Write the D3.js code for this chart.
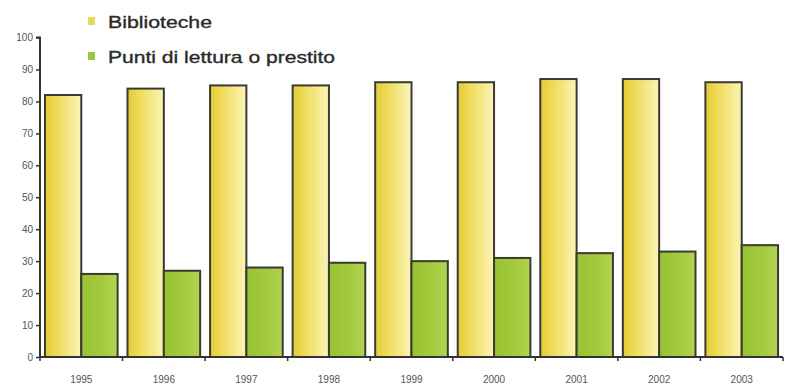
<!DOCTYPE html>
<html>
<head>
<meta charset="utf-8">
<script src="https://cdn.jsdelivr.net/npm/d3@7"></script>
<style>
html,body{margin:0;padding:0;background:#fff;}
svg{display:block;}
</style>
</head>
<body>
<svg id="chart" width="786" height="387"></svg>
<script>
const years = ["1995","1996","1997","1998","1999","2000","2001","2002","2003"];
const biblioteche = [82, 84, 85, 85, 86, 86, 87, 87, 86];
const puntiLettura = [26, 27, 28, 29.5, 30, 31, 32.5, 33, 35];
const seriesNames = ["Biblioteche", "Punti di lettura o prestito"];
const yTicks = [0, 10, 20, 30, 40, 50, 60, 70, 80, 90, 100];

const seriesValues = [biblioteche, puntiLettura];
const data = years.map((yr, i) => ({year: yr, values: seriesValues.map((s, k) => ({key: k, value: s[i]}))}));

const svg = d3.select("#chart");
const mLeft = 40, mRight = 783, mTop = 37.5, mBottom = 357;

const defs = svg.append("defs");
const gY = defs.append("linearGradient").attr("id", "gradY").attr("x1", "0").attr("x2", "1").attr("y1", "0").attr("y2", "0");
gY.append("stop").attr("offset", "0").attr("stop-color", "#e4cc36");
gY.append("stop").attr("offset", "0.35").attr("stop-color", "#efdc5c");
gY.append("stop").attr("offset", "1").attr("stop-color", "#fbf4b8");
const gG = defs.append("linearGradient").attr("id", "gradG").attr("x1", "0").attr("x2", "1").attr("y1", "0").attr("y2", "0");
gG.append("stop").attr("offset", "0").attr("stop-color", "#98c232");
gG.append("stop").attr("offset", "0.6").attr("stop-color", "#a4cb3e");
gG.append("stop").attr("offset", "1").attr("stop-color", "#b2d452");
const fills = ["url(#gradY)", "url(#gradG)"];
const legendColors = ["#e4dc5a", "#9cc444"];

const x0 = d3.scaleBand().domain(years).range([mLeft, mRight]).paddingInner(0.12).paddingOuter(0.06);
const x1 = d3.scaleBand().domain([0, 1]).range([0, x0.bandwidth()]);
const y = d3.scaleLinear().domain([0, 100]).range([mBottom, mTop]);

// bars
const groups = svg.append("g").selectAll("g").data(data).join("g")
  .attr("transform", d => `translate(${x0(d.year)},0)`);
groups.selectAll("rect").data(d => d.values).join("rect")
  .attr("x", d => x1(d.key))
  .attr("y", d => y(d.value))
  .attr("width", x1.bandwidth())
  .attr("height", d => y(0) - y(d.value))
  .attr("fill", d => fills[d.key])
  .attr("stroke", "#3b3a32")
  .attr("stroke-width", 2);

// y axis
const yAxis = d3.axisLeft(y).tickValues(yTicks).tickSize(4).tickPadding(3);
const ya = svg.append("g").attr("transform", `translate(${mLeft},0)`).call(yAxis);
ya.select(".domain").attr("stroke", "#333").attr("stroke-width", 2).attr("d", `M-4,${mTop}H0V${mBottom}`);
ya.selectAll(".tick line").attr("stroke", "#333").attr("stroke-width", 1.5);
ya.selectAll(".tick text").attr("fill", "#555").attr("font-family", "Liberation Sans, Arial, sans-serif").attr("font-size", 10);

// x axis
const xa = svg.append("g").attr("transform", `translate(0,${mBottom})`);
xa.append("line").attr("x1", mLeft).attr("x2", mRight).attr("y1", 0).attr("y2", 0)
  .attr("stroke", "#333").attr("stroke-width", 2);
const half = (x0.step() - x0.bandwidth()) / 2;
const bounds = years.map(d => x0(d) - half).concat([x0(years[years.length - 1]) + x0.bandwidth() + half]);
xa.selectAll("line.tk").data(bounds).join("line").attr("class", "tk")
  .attr("x1", d => d).attr("x2", d => d).attr("y1", 0).attr("y2", 4)
  .attr("stroke", "#333").attr("stroke-width", 1.5);
xa.selectAll("text").data(years).join("text")
  .attr("x", d => x0(d) + x0.bandwidth() / 2)
  .attr("y", 26)
  .attr("text-anchor", "middle")
  .attr("fill", "#555")
  .attr("font-family", "Liberation Sans, Arial, sans-serif")
  .attr("font-size", 10)
  .text(d => d);

// legend
const legend = svg.append("g");
const legY = [22, 57];
const legW = [104, 227];
seriesNames.forEach((name, i) => {
  legend.append("rect").attr("x", 88).attr("y", legY[i] - 5).attr("width", 7).attr("height", 8)
    .attr("fill", legendColors[i]);
  legend.append("text").attr("x", 108).attr("y", legY[i] + 6)
    .attr("fill", "#2a2a2a")
    .attr("stroke", "#2a2a2a")
    .attr("stroke-width", 0.35)
    .attr("font-family", "Liberation Sans, Arial, sans-serif")
    .attr("font-size", 17)
    .attr("textLength", legW[i])
    .attr("lengthAdjust", "spacingAndGlyphs")
    .text(name);
});
</script>
</body>
</html>
